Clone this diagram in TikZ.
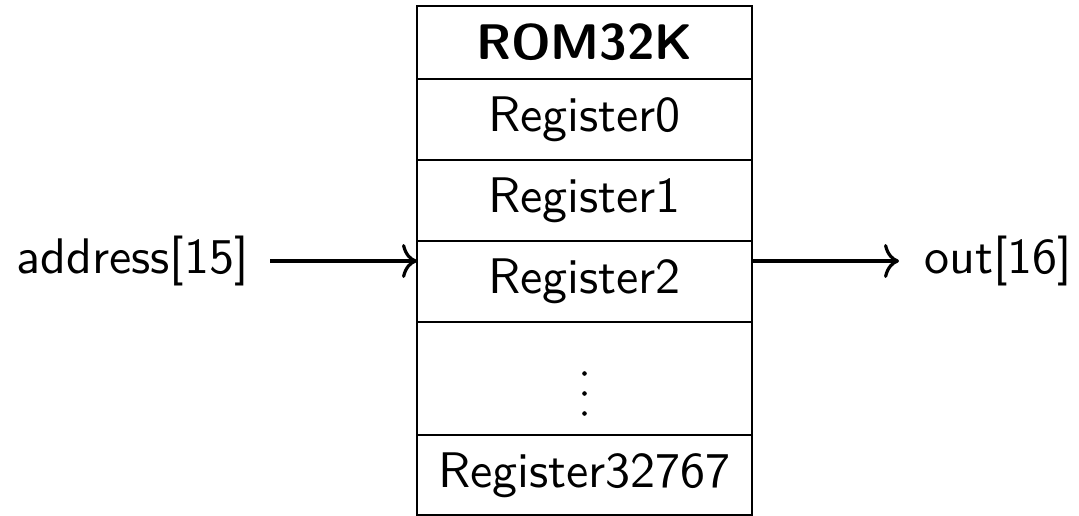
\documentclass[tikz,border=0pt]{standalone}
\usepackage{fontspec}
\usetikzlibrary{arrows.meta}
\newfontfamily\regfont{lmsans10-regular.otf}[BoldFont=lmsans10-bold.otf]
\begin{document}
\begin{tikzpicture}[x=1pt,y=-1pt,
  txt/.style={font=\regfont\fontsize{50}{60}\selectfont},
  cell/.style={txt,draw,line width=2.4pt,minimum width=335pt,inner sep=0pt,
    outer sep=0pt,anchor=north},
  lbl/.style={txt,inner sep=0pt},
  wire/.style={line width=3.2pt,-{To[length=15pt,width=34pt]}}]
\useasboundingbox (0,0) rectangle (1079,516);
% memory rows, stacked from top to bottom
\node[cell,minimum height=73pt] (title) at (584.5,6) {\bfseries ROM32K};
\node[cell,minimum height=81pt] (r0) at (title.south) {Register0};
\node[cell,minimum height=81pt] (r1) at (r0.south) {Register1};
\node[cell,minimum height=81pt] (r2) at (r1.south) {Register2};
\node[cell,minimum height=113pt] (dots) at (r2.south) {};
\node[cell,minimum height=80pt] (rlast) at (dots.south) {Register32767};
% vertical ellipsis in the gap row, sitting a little below its middle
% (yshift works in page coordinates, so negative values go down)
\foreach \dy in {5,-15,-35}
  \fill ([yshift=\dy pt]dots.center) circle (2.3pt);
% input and output
\node[lbl,anchor=east] (addr) at (249,261) {address[15]};
\node[lbl,anchor=west] (out) at (924,261) {out[16]};
\draw[wire] ([xshift=21pt]addr.east) -- (r2.west |- addr.center);
\draw[wire] (r2.east |- out.center) -- ([xshift=-25pt]out.west);
\end{tikzpicture}
\end{document}
